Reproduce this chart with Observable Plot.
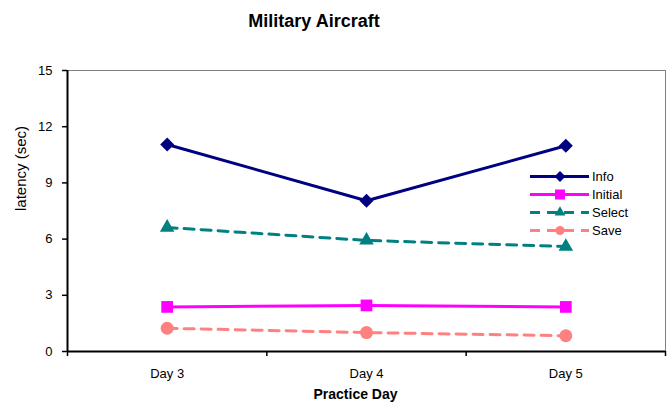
<!DOCTYPE html>
<html>
<head>
<meta charset="utf-8">
<script src="https://cdn.jsdelivr.net/npm/d3@7"></script>
<script src="https://cdn.jsdelivr.net/npm/@observablehq/plot@0.6"></script>
<style>
  body { margin: 0; background: #fff; font-family: "Liberation Sans", Arial, sans-serif; }
  #wrap { position: relative; width: 668px; height: 404px; overflow: hidden; }
  #title { position: absolute; left: 0; top: 1px; width: 628px; text-align: center;
           font-weight: bold; font-size: 18px; line-height: 40px; color: #000; }
  #chart { position: absolute; left: 0; top: 40px; }
</style>
</head>
<body>
<div id="wrap">
  <div id="title">Military Aircraft</div>
  <div id="chart"></div>
</div>
<script>
// Latency per practice day, military aircraft condition
const days = ["Day 3", "Day 4", "Day 5"];
const yTicks = [0, 3, 6, 9, 12, 15];
const seriesNames = ["Info", "Initial", "Select", "Save"];
const info = [11.05, 8.05, 10.98];
const initial = [2.38, 2.46, 2.38];
const select = [6.62, 5.93, 5.6];
const save = [1.24, 1.01, 0.84];

const seriesValues = [info, initial, select, save];
const colors = ["#000080", "#ff00ff", "#008080", "#ff8080"];
const symbols = ["diamond2", "square", "triangle", "circle"];
const radii = [6.3, 6.6, 5.4, 6.5];
const dashes = [null, null, "10,7", "10,7"];

// each day sits in the middle of its own unit-wide slot
const xPos = (d, i) => i + 0.5;

const seriesMarks = seriesValues.flatMap((vals, k) => [
  Plot.lineY(vals, {x: xPos, y: d => d, stroke: colors[k], strokeWidth: 3,
                    strokeDasharray: dashes[k]}),
  Plot.dot(vals, {x: xPos, y: d => d, symbol: symbols[k], r: radii[k],
                  fill: colors[k], stroke: "none"})
]);

const chart = Plot.plot({
  width: 668,
  height: 364,
  marginTop: 30,
  marginBottom: 53,
  marginLeft: 67,
  marginRight: 3,
  style: {fontFamily: "'Liberation Sans', Arial, sans-serif", fontSize: "13px",
          background: "white", overflow: "visible", color: "#000"},
  x: {domain: [0, 3]},
  y: {domain: [0, 15]},
  marks: [
    Plot.frame({stroke: "#808080", strokeWidth: 1}),
    Plot.axisY({ticks: yTicks, tickSize: 5, tickPadding: 10, tickFormat: d => d,
                strokeWidth: 1.5, label: null}),
    Plot.axisX({ticks: [0, 1, 2, 3], tickSize: 5, tickFormat: () => "",
                strokeWidth: 1.5, label: null}),
    Plot.axisX({ticks: days.map(xPos), tickSize: 0, tickPadding: 17,
                tickFormat: v => days[Math.floor(v)], label: null}),
    Plot.ruleX([0], {stroke: "#000", strokeWidth: 2}),
    Plot.ruleY([0], {stroke: "#000", strokeWidth: 2}),
    ...seriesMarks,
    Plot.text(["latency (sec)"], {text: d => d, frameAnchor: "left", rotate: -90,
                                  dx: -46, fontSize: 15}),
    Plot.text(["Practice Day"], {text: d => d, frameAnchor: "bottom", dx: -11, dy: 47,
                                 fontSize: 14, fontWeight: "bold"})
  ]
});

// legend, drawn in the plot's own svg to the right of the lines
const svg = d3.select(chart);
const legend = svg.append("g").attr("transform", "translate(530,136.5)");
const legendSizes = [77, 100, 50, 64];
const d3Symbols = [d3.symbolDiamond2, d3.symbolSquare, d3.symbolTriangle, d3.symbolCircle];
seriesNames.forEach((name, k) => {
  const row = legend.append("g").attr("transform", `translate(0,${k * 18})`);
  row.append("line")
    .attr("x1", 0).attr("x2", 59).attr("y1", 0).attr("y2", 0)
    .attr("stroke", colors[k]).attr("stroke-width", 3)
    .attr("stroke-dasharray", dashes[k]);
  row.append("path")
    .attr("transform", "translate(30,0)")
    .attr("d", d3.symbol(d3Symbols[k], legendSizes[k])())
    .attr("fill", colors[k]);
  row.append("text")
    .attr("x", 62).attr("y", 0).attr("dy", "0.35em")
    .attr("text-anchor", "start")
    .attr("font-size", 13).attr("fill", "#000")
    .text(name);
});

document.getElementById("chart").append(chart);
</script>
</body>
</html>
